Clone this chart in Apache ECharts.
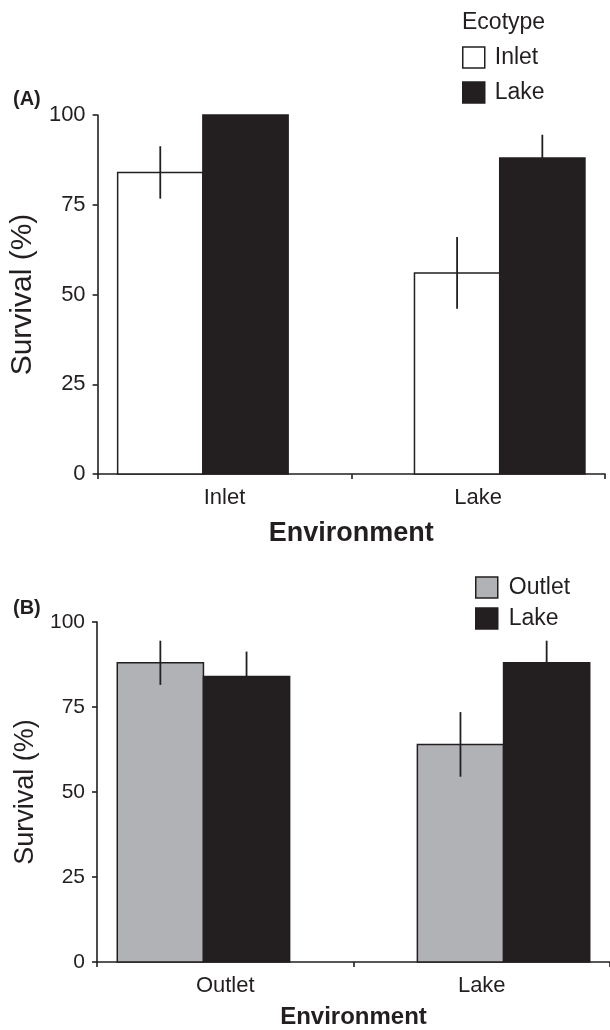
<!DOCTYPE html>
<html>
<head>
<meta charset="utf-8">
<script src="https://cdn.jsdelivr.net/npm/echarts@6/dist/echarts.min.js"></script>
<style>
html, body { margin: 0; padding: 0; background: #fff; }
#chart { width: 610px; height: 1030px; }
</style>
</head>
<body>
<div id="chart"></div>
<script>
// panel A: survival by environment, inlet vs lake ecotype
var envA = ['Inlet', 'Lake'];
var inletEcoA = [84, 56];
var inletErrA = [7.3, 10];
var lakeEcoA = [100, 88];
var lakeErrA = [0, 6.5];

// panel B: outlet vs lake ecotype
var envB = ['Outlet', 'Lake'];
var outletEcoB = [88, 64];
var outletErrB = [6.5, 9.5];
var lakeEcoB = [84, 88];
var lakeErrB = [7.3, 6.5];

var yMin = 0, yMax = 100, yStep = 25;

var dark = '#231f20';
var grey = '#b1b2b5';
var font = "'Liberation Sans', Arial, sans-serif";

var barFrac = 0.336;   // bar width as part of the category band
var shiftFrac = 0.085; // groups sit pushed outward in the original

function rows(vals, errs) {
    var out = [];
    for (var i = 0; i < vals.length; i++) out.push([i, vals[i], errs[i]]);
    return out;
}

// side -1 = left bar of the pair, 1 = right bar
function barRender(side, fill) {
    return function (params, api) {
        var idx = api.value(0), val = api.value(1), err = api.value(2);
        var band = api.size([1, 0])[0];
        var w = band * barFrac;
        var base = api.coord([idx, 0]);
        var top = api.coord([idx, val]);
        var shift = (idx === 0 ? -1 : 1) * band * shiftFrac;
        var x0 = base[0] + shift + (side < 0 ? -w : 0);
        var cx = x0 + w / 2;
        var kids = [{
            type: 'rect',
            shape: { x: x0, y: top[1], width: w, height: base[1] - top[1] },
            style: { fill: fill, stroke: dark, lineWidth: 1.5 }
        }];
        if (err > 0) {
            var hi = api.coord([idx, val + err]);
            var lo = api.coord([idx, val - err]);
            kids.push({
                type: 'line',
                shape: { x1: cx, y1: hi[1], x2: cx, y2: lo[1] },
                style: { stroke: dark, lineWidth: 1.8 }
            });
        }
        return { type: 'group', children: kids };
    };
}

function xAx(idx, cats, nameSize, nameGap) {
    return {
        type: 'category', gridIndex: idx, data: cats, boundaryGap: true,
        name: 'Environment', nameLocation: 'middle', nameGap: nameGap,
        nameTextStyle: { fontFamily: font, fontSize: nameSize, fontWeight: 'bold', color: dark },
        axisLine: { lineStyle: { color: dark, width: 1.6 } },
        axisTick: { show: true, length: 5, lineStyle: { color: dark, width: 1.6 } },
        axisLabel: { fontFamily: font, fontSize: 22, color: dark, margin: 13 },
        splitLine: { show: false }
    };
}

function yAx(idx, labelSize, nameSize, nameGap) {
    return {
        type: 'value', gridIndex: idx, min: yMin, max: yMax, interval: yStep,
        name: 'Survival (%)', nameLocation: 'middle', nameRotate: 90, nameGap: nameGap,
        nameTextStyle: { fontFamily: font, fontSize: nameSize, color: dark },
        axisLine: { show: true, lineStyle: { color: dark, width: 1.6 } },
        axisTick: { show: true, length: 5, lineStyle: { color: dark, width: 1.6 } },
        axisLabel: { fontFamily: font, fontSize: labelSize, color: dark, margin: 12 },
        splitLine: { show: false }
    };
}

var myChart = echarts.init(document.getElementById('chart'));
var option = {
    backgroundColor: '#fff',
    animation: false,
    title: [
        { text: '(A)', left: 13, top: 89, padding: 0,
          textStyle: { fontFamily: font, fontSize: 20, fontWeight: 'bold', color: dark } },
        { text: '(B)', left: 13, top: 598, padding: 0,
          textStyle: { fontFamily: font, fontSize: 20, fontWeight: 'bold', color: dark } },
        { text: 'Ecotype', left: 462, top: 11, padding: 0,
          textStyle: { fontFamily: font, fontSize: 23, fontWeight: 'normal', color: dark } }
    ],
    legend: [{
        orient: 'vertical', left: 462, top: 46, padding: 0,
        itemWidth: 22, itemHeight: 21, itemGap: 12, selectedMode: false, icon: 'rect',
        textStyle: { fontFamily: font, fontSize: 23, color: dark, padding: [0, 0, 0, 5] },
        data: [
            { name: 'Inlet', itemStyle: { color: '#fff', borderColor: dark, borderWidth: 1.5 } },
            { name: 'Lake', itemStyle: { color: dark, borderColor: dark, borderWidth: 1.5 } }
        ]
    }, {
        orient: 'vertical', left: 475, top: 576, padding: 0,
        itemWidth: 22, itemHeight: 21, itemGap: 8, selectedMode: false, icon: 'rect',
        textStyle: { fontFamily: font, fontSize: 23, color: dark, padding: [0, 0, 0, 6] },
        data: [
            { name: 'Outlet', itemStyle: { color: grey, borderColor: dark, borderWidth: 1.5 } },
            { name: 'Lake', itemStyle: { color: dark, borderColor: dark, borderWidth: 1.5 } }
        ]
    }],
    grid: [
        { left: 94, top: 115, width: 511, height: 359 },
        { left: 97, top: 622, width: 516, height: 340 }
    ],
    xAxis: [xAx(0, envA, 27, 46), xAx(1, envB, 24, 43)],
    yAxis: [yAx(0, 22, 30, 55), yAx(1, 21, 27, 57)],
    series: [
        { name: 'Inlet', type: 'custom', xAxisIndex: 0, yAxisIndex: 0,
          itemStyle: { color: '#fff' }, renderItem: barRender(-1, '#fff'),
          data: rows(inletEcoA, inletErrA) },
        { name: 'Lake', type: 'custom', xAxisIndex: 0, yAxisIndex: 0,
          itemStyle: { color: dark }, renderItem: barRender(1, dark),
          data: rows(lakeEcoA, lakeErrA) },
        { name: 'Outlet', type: 'custom', xAxisIndex: 1, yAxisIndex: 1,
          itemStyle: { color: grey }, renderItem: barRender(-1, grey),
          data: rows(outletEcoB, outletErrB) },
        { name: 'Lake', type: 'custom', xAxisIndex: 1, yAxisIndex: 1,
          itemStyle: { color: dark }, renderItem: barRender(1, dark),
          data: rows(lakeEcoB, lakeErrB) }
    ]
};
myChart.setOption(option);
</script>
</body>
</html>
